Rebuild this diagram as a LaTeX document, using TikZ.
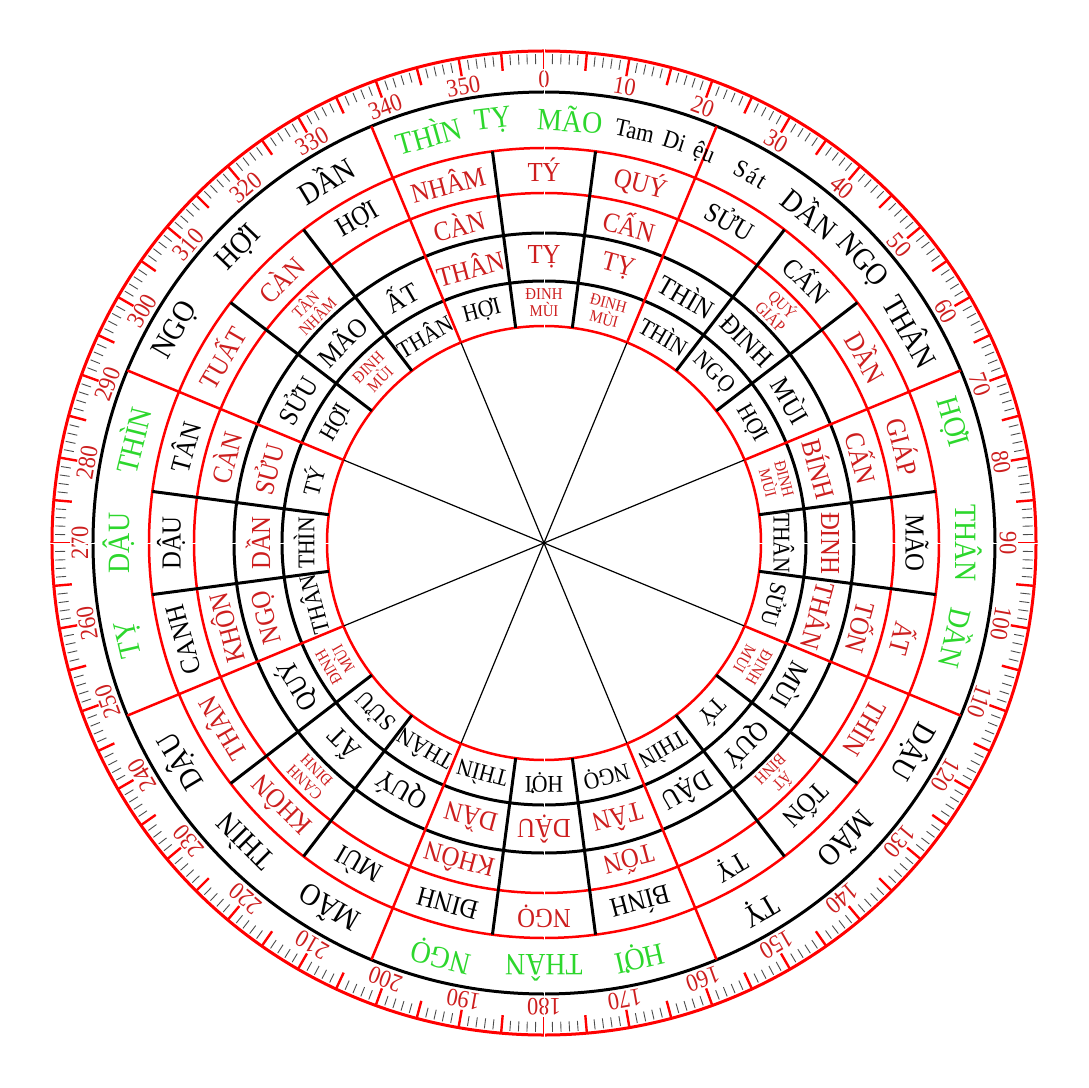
\documentclass[tikz,border=0pt]{standalone}
\usepackage{fontspec}
\setmainfont{Liberation Serif}[FakeStretch=0.9]
\definecolor{txtred}{RGB}{205,30,30}
\definecolor{txtgreen}{RGB}{45,215,45}

\begin{document}
\begin{tikzpicture}[
    x=1pt, y=1pt,
    every node/.style={inner sep=0pt},
    outerlbl/.style={font=\fontsize{31}{33}\selectfont},
    ringlbl/.style={font=\fontsize{27.5}{29}\selectfont},
    innerlbl/.style={font=\fontsize{24}{26}\selectfont},
    pairlbl/.style={font=\fontsize{16.5}{17}\selectfont, align=center, text=txtred},
    degree/.style={font=\fontsize{25}{25}\selectfont, text=txtred}
]
\useasboundingbox (-544,-544) rectangle (545,543);

% Degree scale
\draw[red, line width=3] (0,0) circle (492);
\foreach \d in {0,...,359}
    \draw[black!70, line width=0.9] ({90-\d}:489) -- ({90-\d}:479);
\foreach \d in {0,5,...,355}
    \draw[red, line width=2.4] ({90-\d}:491) -- ({90-\d}:474);
\foreach \d in {0,10,...,350}
    \node[degree, rotate=-\d] (deg\d) at ({90-\d}:464) {\d};

% Rings
\foreach \r in {217, 350, 395}
    \draw[red, line width=2.5] (0,0) circle (\r);
\foreach \r in {262, 310, 451}
    \draw[line width=3] (0,0) circle (\r);

% Sector lines
\foreach \b in {22.5,67.5,...,337.5} {
    \draw[line width=1.2] (0,0) -- ({90-\b}:217);
    \draw[red, line width=2.5] ({90-\b}:217) -- ({90-\b}:451);
}
\foreach \c in {0,45,...,315}
    \foreach \s in {-7.5,7.5}
        \draw[line width=3] ({90-\c-\s}:217) -- ({90-\c-\s}:395);

% Seams at the four quarters
\foreach \c in {0,90,180,270}
    \draw[white, line width=1] ({90-\c}:214) -- ({90-\c}:495);

% Outer ring
\foreach \b/\col/\txt [count=\i] in {344.2/txtgreen/THÌN, 353.1/txtgreen/TỴ, 3.5/txtgreen/MÃO,
    38.9/black/DẦN, 48.4/black/NGỌ, 60/black/THÂN,
    73.5/txtgreen/HỢI, 90/txtgreen/THÂN, 103/txtgreen/DẦN,
    119.5/black/DẬU, 134.5/black/MÃO, 149.5/black/TỴ,
    167/txtgreen/HỢI, 180/txtgreen/THÂN, 194/txtgreen/NGỌ,
    210.5/black/MÃO, 225/black/THÌN, 239/black/DẬU,
    257/txtgreen/TỴ, 270/txtgreen/DẬU, 284/txtgreen/THÌN,
    300/black/NGỌ, 314/black/HỢI, 329/black/DẦN}
    \node[outerlbl, text=\col, rotate=-\b] (outer\i) at ({90-\b}:425) {\txt};

% Tam Dieu Sat, spaced along the arc
\foreach \b/\ch [count=\i] in {12.4/Tam, 18.0/Di, 22.3/ệu, 27.8/S, 29.6/á, 31.1/t}
    \node[font=\fontsize{25}{27}\selectfont, anchor=base, rotate=-\b] (tds\i) at ({90-\b}:414) {\ch};

% Ring D
\foreach \b/\col/\txt [count=\i] in {345/txtred/NHÂM, 0/txtred/TÝ, 15/txtred/QUÝ,
    30/black/SỬU, 45/black/CẤN, 60/txtred/DẦN,
    75/txtred/GIÁP, 90/black/MÃO, 105/txtred/ẤT,
    120/txtred/THÌN, 135/black/TỐN, 150/black/TỴ,
    165/black/BÍNH, 180/txtred/NGỌ, 195/black/ĐINH,
    210/black/MÙI, 225/txtred/KHÔN, 240/txtred/THÂN,
    255/black/CANH, 270/black/DẬU, 285/black/TÂN,
    300/txtred/TUẤT, 315/txtred/CÀN, 330/black/HỢI}
    \node[ringlbl, text=\col, rotate=-\b] (ringd\i) at ({90-\b}:373) {\txt};

% Ring C
\foreach \b/\txt [count=\i] in {345/CÀN, 15/CẤN, 75/CẤN, 105/TỐN,
    165/TỐN, 195/KHÔN, 255/KHÔN, 285/CÀN}
    \node[ringlbl, text=txtred, rotate=-\b] (ringc\i) at ({90-\b}:330) {\txt};
\foreach \b/\txt [count=\i] in {45/QUÝ\\GIÁP, 135/ẤT\\BÍNH, 225/CANH\\ĐINH, 315/TÂN\\NHÂM}
    \node[pairlbl, rotate=-\b] (pairc\i) at ({90-\b}:330) {\txt};

% Ring B
\foreach \b/\col/\txt [count=\i] in {345/txtred/THÂN, 0/txtred/TỴ, 15/txtred/TỴ,
    30/black/THÌN, 45/black/ĐINH, 60/black/MÙI,
    75/txtred/BÍNH, 90/txtred/ĐINH, 105/txtred/THÂN,
    120/black/MÙI, 135/black/QUÝ, 150/black/DẬU,
    165/txtred/TÂN, 180/txtred/DẬU, 195/txtred/DẦN,
    210/black/QUÝ, 225/black/ẤT, 240/black/QUÝ,
    255/txtred/NGỌ, 270/txtred/DẦN, 285/txtred/SỬU,
    300/black/SỬU, 315/black/MÃO, 330/black/ẤT}
    \node[ringlbl, text=\col, rotate=-\b] (ringb\i) at ({90-\b}:286) {\txt};

% Ring A
\foreach \b/\txt [count=\i] in {345/HỢI, 30/THÌN, 45/NGỌ, 60/HỢI, 90/THÂN, 105/SỬU,
    135/TÝ, 150/THÌN, 165/NGỌ, 180/HỢI, 195/THÌN, 210/THÂN,
    225/SỬU, 255/THÂN, 270/THÌN, 285/TÝ, 300/HỢI, 330/THÂN}
    \node[innerlbl, rotate=-\b] (ringa\i) at ({90-\b}:240) {\txt};
\foreach \b [count=\i] in {0, 15, 75, 120, 240, 315}
    \node[pairlbl, rotate=-\b] (paira\i) at ({90-\b}:240) {ĐINH\\MÙI};
\end{tikzpicture}
\end{document}
